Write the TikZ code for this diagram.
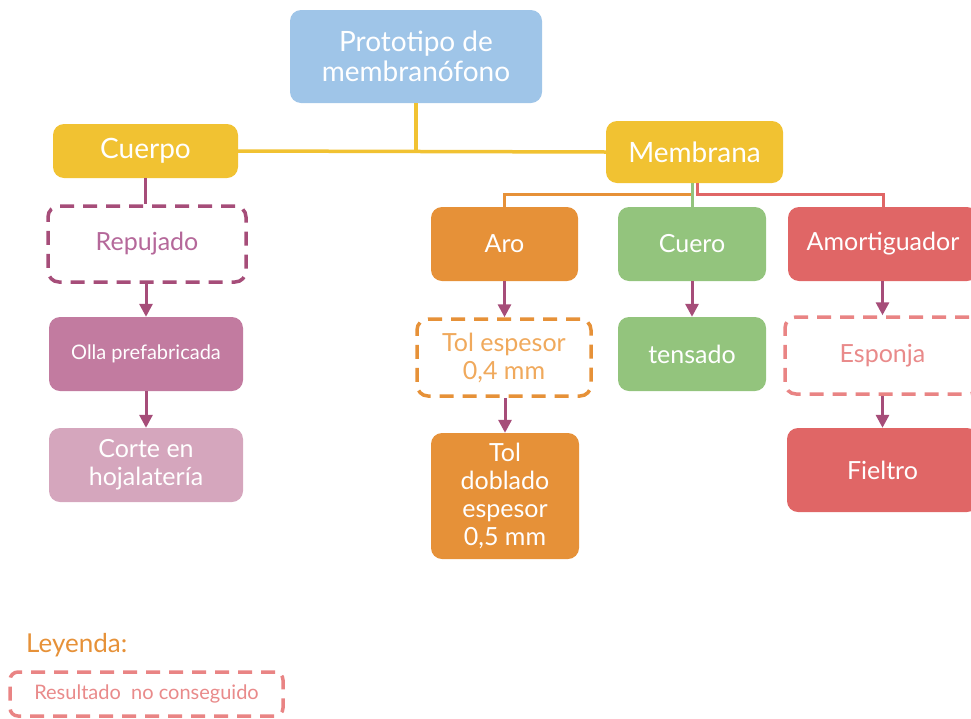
\documentclass[tikz,border=0pt]{standalone}
\usepackage{fontspec}
\setmainfont{Lato}
\usetikzlibrary{arrows.meta}
\definecolor{cblue}{HTML}{9FC5E8}
\definecolor{cyel}{HTML}{F1C232}
\definecolor{corange}{HTML}{E69138}
\definecolor{cgreen}{HTML}{93C47D}
\definecolor{cred}{HTML}{E06666}
\definecolor{cplum}{HTML}{C27BA0}
\definecolor{cpink}{HTML}{D5A6BD}
\definecolor{cpurple}{HTML}{A64D79}
\definecolor{corangetext}{HTML}{F0A95C}
\definecolor{credtext}{HTML}{E98A8A}
\definecolor{credline}{HTML}{E98484}
\definecolor{cpurpletext}{HTML}{B5689A}
\begin{document}
\begin{tikzpicture}[x=1pt,y=-1pt,
  box/.style={rounded corners=11pt, align=center, inner sep=0pt, text=white,
    font=\fontsize{25}{28}\selectfont},
  bigbox/.style={box, font=\fontsize{28}{30}\selectfont},
  dbox/.style={box, fill=white, line width=3.5pt, dash pattern=on 14pt off 9pt},
  smalltext/.style={font=\fontsize{20}{22}\selectfont},
  conn/.style={line width=3pt},
  arr/.style={draw=cpurple, line width=3pt, -{Triangle[length=13pt,width=13pt]}},
  plain/.style={draw=cpurple, line width=3pt}
]
\useasboundingbox (0,0) rectangle (971,718);

% level 0 and 1
\node[bigbox, fill=cblue, minimum width=252pt, minimum height=93pt] (proto) at (416,56.5) {Prototipo de\\membranófono};
\node[bigbox, fill=cyel, minimum width=185pt, minimum height=54pt] (cuerpo) at (145.5,151) {Cuerpo};
\node[bigbox, fill=cyel, minimum width=177pt, minimum height=62pt] (membrana) at (694.5,152) {Membrana};

% level 2
\node[box, fill=corange, minimum width=147pt, minimum height=74pt] (aro) at (504.5,244) {Aro};
\node[box, fill=cgreen, minimum width=148pt, minimum height=74pt] (cuero) at (692,244) {Cuero};
\node[box, fill=cred, minimum width=190pt, minimum height=74pt] (amort) at (883,244) {Amortiguador};

% left column
\node[dbox, draw=cpurple, text=cpurpletext, minimum width=198pt, minimum height=76pt] (repujado) at (147,244) {Repujado};
\node[box, smalltext, fill=cplum, minimum width=194pt, minimum height=74pt] (olla) at (146,354) {Olla prefabricada};
\node[box, fill=cpink, minimum width=194pt, minimum height=74pt] (corte) at (146,465) {Corte en\\hojalatería};

% level 3
\node[dbox, draw=corange, text=corangetext, minimum width=174pt, minimum height=77pt] (tolesp) at (504,357.5) {Tol espesor\\0,4 mm};
\node[box, fill=corange, minimum width=148pt, minimum height=126pt] (toldob) at (505,496) {Tol\\doblado\\espesor\\0,5 mm};
\node[box, fill=cgreen, minimum width=148pt, minimum height=74pt] (tensado) at (692,354) {tensado};
\node[dbox, draw=credline, text=credtext, minimum width=195pt, minimum height=77pt] (esponja) at (882.5,355.5) {Esponja};
\node[box, fill=cred, minimum width=191pt, minimum height=84pt] (fieltro) at (882.5,470) {Fieltro};

% legend
\node[anchor=west, text=corange, inner sep=0pt, font=\fontsize{26}{28}\selectfont] (leyenda) at (26,645) {Leyenda:};
\node[dbox, smalltext, draw=credline, text=credtext, rounded corners=8pt, minimum width=273pt, minimum height=44pt] (legbox) at (146.5,694) {Resultado\ \ no conseguido};

% yellow connectors
\draw[conn, draw=cyel, line width=3.5pt] (cuerpo.east) -- (membrana.west);
\draw[conn, draw=cyel, line width=3.5pt] (proto.south) -- (proto.south |- cuerpo.east);

% membrana branches
\draw[conn, draw=corange] (membrana.south -| cuero.north) -- ++(0,11) -| (aro.north);
\draw[conn, draw=cred] ([xshift=5pt]membrana.south -| cuero.north) -- ++(0,11) -| (amort.north);
\draw[conn, draw=cgreen] (membrana.south -| cuero.north) -- (cuero.north);

% purple arrows
\draw[plain] (cuerpo.south) -- (cuerpo.south |- repujado.north);
\draw[arr] (repujado.south -| olla.north) -- (olla.north);
\draw[arr] (olla.south) -- (corte.north);
\draw[arr] (aro.south) -- (aro.south |- tolesp.north);
\draw[arr] (tolesp.south -| toldob.north) -- (toldob.north);
\draw[arr] (cuero.south) -- (tensado.north);
\draw[arr] (amort.south -| esponja.north) -- (esponja.north);
\draw[arr] (esponja.south) -- (esponja.south |- fieltro.north);
\end{tikzpicture}
\end{document}
